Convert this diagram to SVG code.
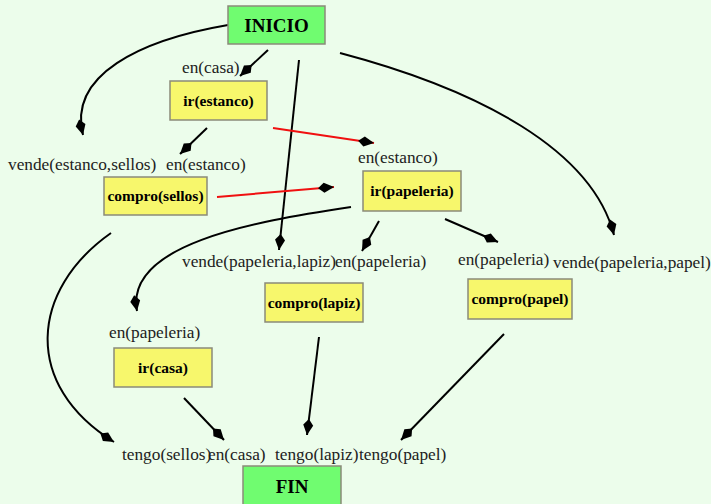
<svg xmlns="http://www.w3.org/2000/svg" width="711" height="504" viewBox="0 0 711 504">
  <defs>
    <marker id="head" markerWidth="16" markerHeight="11" viewBox="0 -5.5 16 11" refX="16" refY="0" orient="auto" markerUnits="userSpaceOnUse">
      <path d="M0,0 L6,-5 L16,0 L6,5 Z" fill="#000"/>
    </marker>
    <style>
      .bg { fill: #ecfdeb; }
      .box { stroke: #8a8a7a; stroke-width: 1.5; }
      .start { fill: #70fc70; }
      .action { fill: #f7f76c; }
      .name { font-family: "Liberation Serif", "Times New Roman", serif; font-weight: bold; font-size: 15.5px; fill: #000; text-anchor: middle; }
      .big { font-size: 19px; }
      .cond { font-family: "Liberation Serif", "Times New Roman", serif; font-size: 17.3px; fill: #222; }
      .edge { fill: none; stroke: #000; stroke-width: 2; marker-end: url(#head); }
      .order { stroke: #f01010; }
    </style>
  </defs>

  <rect class="bg" x="0" y="0" width="711" height="504"/>

  <g id="connectors">
    <path class="edge" d="M228,25 C140,40 68,75 83,135"/>
    <path class="edge" d="M268,50 L240,76"/>
    <path class="edge" d="M299,60 L279,250"/>
    <path class="edge" d="M340,53 C480,90 592,150 614,235"/>
    <path class="edge" d="M207,128 L180,154"/>
    <path class="edge order" d="M273,128 L374,143"/>
    <path class="edge order" d="M217,197 L334,187"/>
    <path class="edge" d="M351,207 C250,222 125,245 137,311"/>
    <path class="edge" d="M379,221 L362,251"/>
    <path class="edge" d="M445,219 L498,242"/>
    <path class="edge" d="M111,233 C30,290 22,385 114,442"/>
    <path class="edge" d="M184,398 L224,440"/>
    <path class="edge" d="M319,337 L307,435"/>
    <path class="edge" d="M504,334 L401,440"/>
  </g>

  <g id="inicio">
    <rect class="box start" x="228" y="6" width="97" height="38"/>
    <text class="name big" x="276.5" y="32">INICIO</text>
  </g>
  <g id="ir-estanco">
    <text class="cond" x="182" y="73">en(casa)</text>
    <rect class="box action" x="170" y="81" width="97" height="39"/>
    <text class="name" x="218.5" y="106">ir(estanco)</text>
  </g>
  <g id="compro-sellos">
    <text class="cond" x="8" y="170">vende(estanco,sellos)</text>
    <text class="cond" x="166" y="170">en(estanco)</text>
    <rect class="box action" x="104" y="177" width="103" height="38"/>
    <text class="name" x="155.5" y="201">compro(sellos)</text>
  </g>
  <g id="ir-papeleria">
    <text class="cond" x="358" y="163">en(estanco)</text>
    <rect class="box action" x="363" y="171" width="98" height="40"/>
    <text class="name" x="412" y="196">ir(papeleria)</text>
  </g>
  <g id="compro-lapiz">
    <text class="cond" x="182" y="267">vende(papeleria,lapiz)</text>
    <text class="cond" x="335" y="267">en(papeleria)</text>
    <rect class="box action" x="265" y="283" width="98" height="39"/>
    <text class="name" x="314" y="308">compro(lapiz)</text>
  </g>
  <g id="compro-papel">
    <text class="cond" x="458" y="265">en(papeleria)</text>
    <text class="cond" x="553" y="268">vende(papeleria,papel)</text>
    <rect class="box action" x="468" y="279" width="104" height="40"/>
    <text class="name" x="520" y="304">compro(papel)</text>
  </g>
  <g id="ir-casa">
    <text class="cond" x="109" y="338">en(papeleria)</text>
    <rect class="box action" x="114" y="348" width="98" height="39"/>
    <text class="name" x="163" y="373">ir(casa)</text>
  </g>
  <g id="fin">
    <text class="cond" x="122" y="460">tengo(sellos)</text>
    <text class="cond" x="208" y="460">en(casa)</text>
    <text class="cond" x="275" y="460">tengo(lapiz)</text>
    <text class="cond" x="359" y="460">tengo(papel)</text>
    <rect class="box start" x="243" y="466" width="98" height="44"/>
    <text class="name big" x="292" y="493">FIN</text>
  </g>
</svg>
